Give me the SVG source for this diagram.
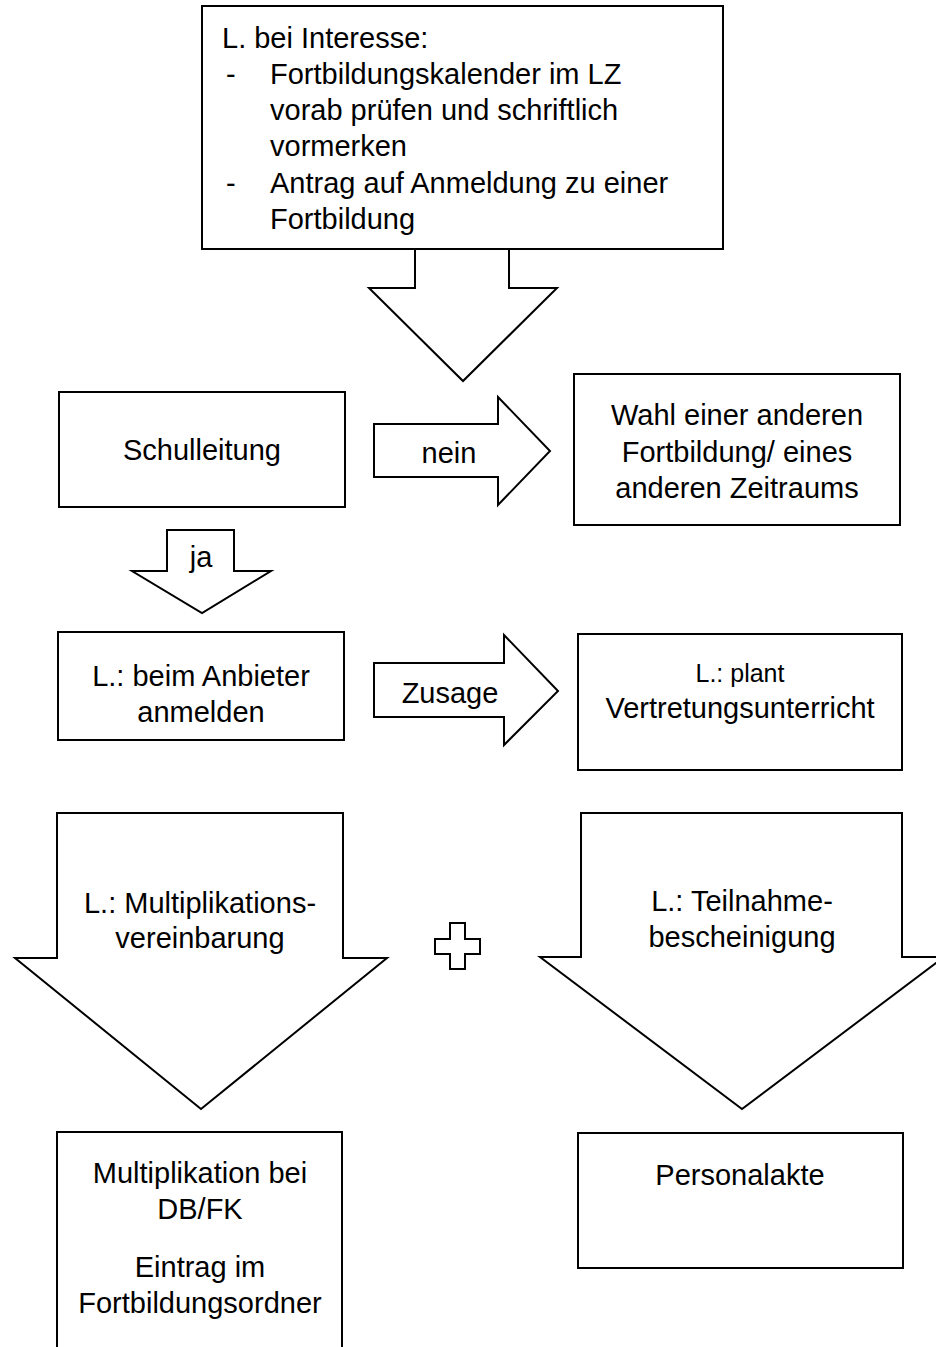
<svg xmlns="http://www.w3.org/2000/svg" width="936" height="1347" viewBox="0 0 936 1347">
<style>
.s{fill:#fff;stroke:#000;stroke-width:2;stroke-linejoin:miter}
text{font-family:"Liberation Sans",Arial,sans-serif;font-size:29px;fill:#000}
.c{text-anchor:middle}
.sm{font-size:25px}
</style>
<rect width="936" height="1347" fill="#fff"/>
<g id="connectors">
<polygon class="s" points="415,249 509,249 509,288 557,288 463,381 369,288 415,288"/>
<g id="arrow-nein">
<polygon class="s" points="374,424 498,424 498,397 550,451 498,505 498,477 374,477"/>
<text class="c" x="449" y="463">nein</text>
</g>
<g id="arrow-ja">
<polygon class="s" points="167,530 234,530 234,571 271,571 202,613 132,571 167,571"/>
<text class="c" x="201" y="567">ja</text>
</g>
<g id="arrow-zusage">
<polygon class="s" points="374,663 504,663 504,635 558,691 504,745 504,717 374,717"/>
<text class="c" x="450" y="703">Zusage</text>
</g>
<g id="arrow-multiplikation">
<polygon class="s" points="57,813 343,813 343,958 387,958 201,1109 15,958 57,958"/>
<text class="c" x="200" y="913">L.: Multiplikations-</text>
<text class="c" x="200" y="948">vereinbarung</text>
</g>
<g id="plus">
<polygon class="s" points="450,923 465,923 465,939 480,939 480,954 465,954 465,969 450,969 450,954 435,954 435,939 450,939"/>
</g>
<g id="arrow-teilnahme">
<polygon class="s" points="581,813 902,813 902,957 944,957 742,1109 540,957 581,957"/>
<text class="c" x="742" y="911">L.: Teilnahme-</text>
<text class="c" x="742" y="947">bescheinigung</text>
</g>
</g>
<g id="start">
<rect class="s" x="202" y="6" width="521" height="243"/>
<text x="222" y="48">L. bei Interesse:</text>
<text x="226" y="84">-</text>
<text x="270" y="84">Fortbildungskalender im LZ</text>
<text x="270" y="120">vorab prüfen und schriftlich</text>
<text x="270" y="156">vormerken</text>
<text x="226" y="193">-</text>
<text x="270" y="193">Antrag auf Anmeldung zu einer</text>
<text x="270" y="229">Fortbildung</text>
</g>
<g id="schulleitung">
<rect class="s" x="59" y="392" width="286" height="115"/>
<text class="c" x="202" y="460">Schulleitung</text>
</g>
<g id="wahl">
<rect class="s" x="574" y="374" width="326" height="151"/>
<text class="c" x="737" y="425">Wahl einer anderen</text>
<text class="c" x="737" y="462">Fortbildung/ eines</text>
<text class="c" x="737" y="498">anderen Zeitraums</text>
</g>
<g id="anmelden">
<rect class="s" x="58" y="632" width="286" height="108"/>
<text class="c" x="201" y="686">L.: beim Anbieter</text>
<text class="c" x="201" y="722">anmelden</text>
</g>
<g id="vertretung">
<rect class="s" x="578" y="634" width="324" height="136"/>
<text class="c sm" x="740" y="682">L.: plant</text>
<text class="c" x="740" y="718">Vertretungsunterricht</text>
</g>
<g id="multiplikation">
<path class="s" d="M57,1350 V1132 H342 V1350"/>
<text class="c" x="200" y="1183">Multiplikation bei</text>
<text class="c" x="200" y="1219">DB/FK</text>
<text class="c" x="200" y="1277">Eintrag im</text>
<text class="c" x="200" y="1313">Fortbildungsordner</text>
</g>
<g id="personalakte">
<rect class="s" x="578" y="1133" width="325" height="135"/>
<text class="c" x="740" y="1185">Personalakte</text>
</g>
</svg>
